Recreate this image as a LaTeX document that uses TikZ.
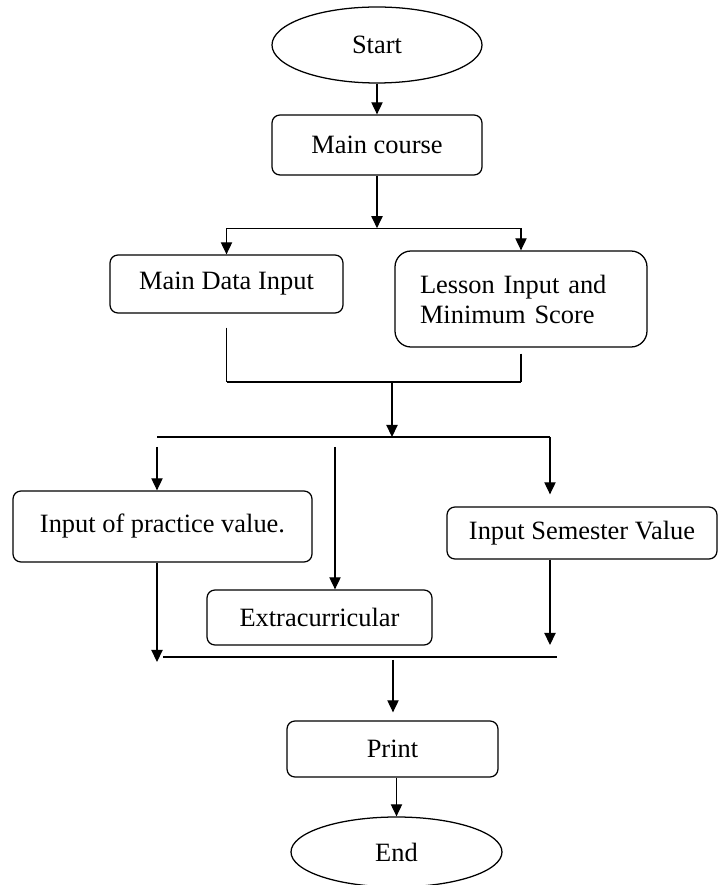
\documentclass[tikz,border=0pt]{standalone}
\usepackage{fontspec}
\setmainfont{Liberation Serif}
\usepackage{tikz}
\usetikzlibrary{arrows.meta,shapes}

\tikzset{
  box/.style={draw,rounded corners=0.2cm,line width=0.9pt,font=\fontsize{18.8}{21.3}\selectfont},
  oval/.style={draw,ellipse,line width=0.9pt,font=\fontsize{18.8}{21.3}\selectfont},
  ln/.style={line width=0.9pt},
}

\begin{document}
\begin{tikzpicture}[>={Triangle[width=0.28cm,length=0.3cm]}]
\useasboundingbox (0,0) rectangle (17.95,22.125);
\node[oval,minimum width=5.25cm,minimum height=1.9cm](start)at(9.425,21.0){Start};
\node[box,minimum width=5.25cm,minimum height=1.5cm](main)at(9.425,18.5){Main course};
\node[box,minimum width=5.825cm,minimum height=1.45cm](mdi)at(5.6625,15.025){Main Data Input};
\node[box,rounded corners=0.4cm,minimum width=6.3cm,minimum height=2.4cm,text width=5.05cm,inner xsep=0.625cm,align=left](lesson)at(13.025,14.65){Lesson Input and\\Minimum Score};
\node[box,minimum width=7.475cm,minimum height=1.775cm](practice)at(4.0625,8.9625){Input of practice value.};
\node[box,minimum width=5.625cm,minimum height=1.375cm](extra)at(7.9875,6.6875){Extracurricular};
\node[box,minimum width=6.75cm,minimum height=1.3cm](sem)at(14.55,8.8){Input Semester Value};
\node[box,minimum width=5.275cm,minimum height=1.4cm](print)at(9.8125,3.4){Print};
\node[oval,minimum width=5.275cm,minimum height=1.75cm](end)at(9.9125,0.825){End};

\coordinate(barA)at(9.425,16.42);
\coordinate(joinA)at(9.8,12.575);
\coordinate(barB)at(9.8,11.2);
\coordinate(colL)at(3.925,10.95);
\coordinate(colM)at(8.375,10.95);
\coordinate(colR)at(13.75,11.2);
\coordinate(barC)at(9.825,5.7);

\draw[ln,->](start)--(main);
\draw[ln,->](main.south)--(barA);
\draw[ln](mdi.north|-barA)--(lesson.north|-barA);
\draw[ln,->](mdi.north|-barA)--(mdi.north);
\draw[ln,->](lesson.north|-barA)--(lesson.north);

\draw[ln,shorten <=0.35cm](mdi.south)--(mdi.south|-joinA);
\draw[ln,shorten <=0.15cm](lesson.south)--(lesson.south|-joinA);
\draw[ln](mdi.south|-joinA)--(lesson.south|-joinA);
\draw[ln,->](joinA)--(barB);

\draw[ln](colL|-barB)--(colR);
\draw[ln,->](colL)--(colL|-practice.north);
\draw[ln,->](colM)--(colM|-extra.north);
\draw[ln,->,shorten >=0.3cm](colR)--(colR|-sem.north);

\draw[ln,->](colL|-practice.south)--([yshift=-0.125cm]colL|-barC);
\draw[ln,->,shorten >=0.3cm](colR|-sem.south)--(colR|-barC);
\draw[ln]([xshift=0.15cm]colL|-barC)--([xshift=0.175cm]colR|-barC);
\draw[ln,->,shorten <=0.075cm,shorten >=0.2cm](barC)--(barC|-print.north);
\draw[ln,->](print.south-|end.north)--(end.north);
\end{tikzpicture}
\end{document}
